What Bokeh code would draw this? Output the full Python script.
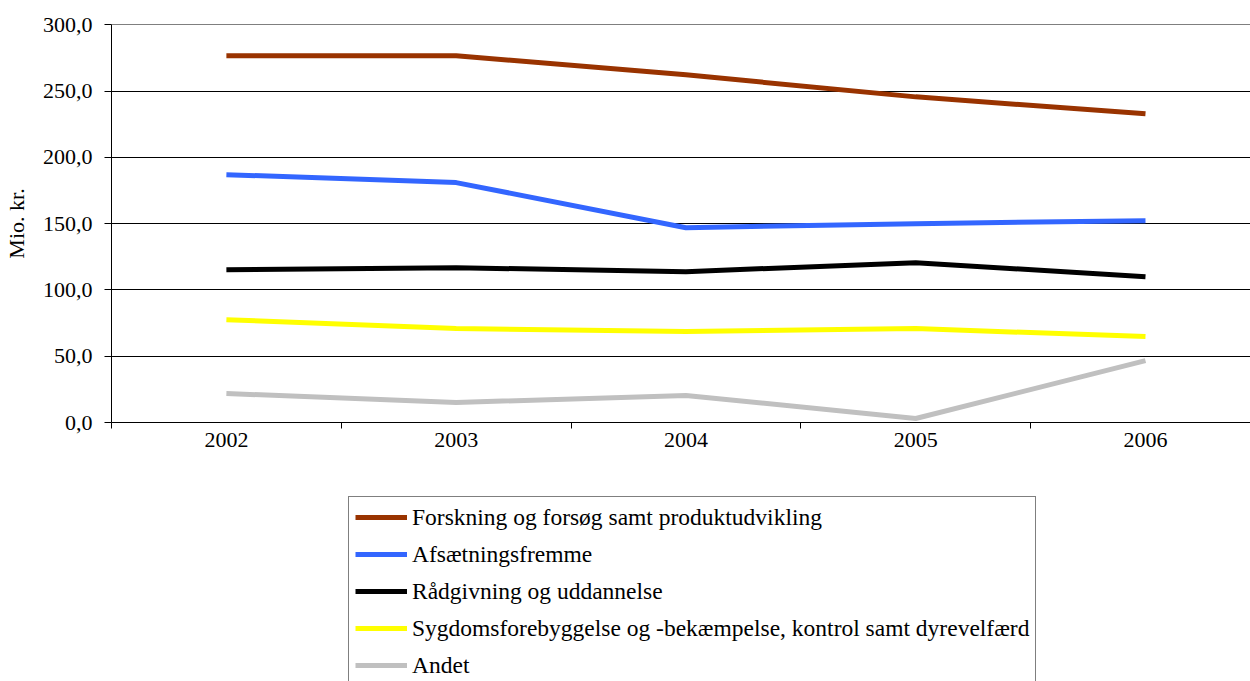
from bokeh.plotting import figure
from bokeh.layouts import column
from bokeh.models import Range1d, FixedTicker, Legend, LegendItem
from bokeh.embed import file_html
from bokeh.resources import INLINE

years = ["2002", "2003", "2004", "2005", "2006"]
forskning = [276.7, 276.7, 262.3, 245.7, 232.9]
afsaetning = [187.0, 181.0, 147.0, 150.0, 152.3]
raadgivning = [115.3, 116.8, 113.8, 120.6, 110.0]
sygdom = [77.6, 70.9, 68.6, 70.9, 64.8]
andet = [21.9, 15.1, 20.4, 3.0, 46.7]

series_names = [
    "Forskning og forsøg samt produktudvikling",
    "Afsætningsfremme",
    "Rådgivning og uddannelse",
    "Sygdomsforebyggelse og -bekæmpelse, kontrol samt dyrevelfærd",
    "Andet",
]
series_values = [forskning, afsaetning, raadgivning, sygdom, andet]
series_colors = ["#993300", "#3366FF", "#000000", "#FFFF00", "#C0C0C0"]

y_ticks = [0, 50, 100, 150, 200, 250, 300]
y_tick_labels = ["0,0", "50,0", "100,0", "150,0", "200,0", "250,0", "300,0"]

FONT = "Liberation Serif"

xs = list(range(len(years)))

# ---------------- main chart ----------------
p = figure(width=1250, height=472, output_backend="svg", toolbar_location=None,
           x_range=Range1d(-0.5, 4.457), y_range=Range1d(0, 300.3),
           min_border_left=110, min_border_right=0, min_border_top=24,
           min_border_bottom=50)
p.outline_line_color = None
p.background_fill_color = "white"

p.xaxis.ticker = FixedTicker(ticks=xs, minor_ticks=[i - 0.5 for i in range(len(years) + 1)])
p.xaxis.major_label_overrides = {i: y for i, y in enumerate(years)}
p.xaxis.major_tick_out = 0
p.xaxis.major_tick_in = 0
p.xaxis.minor_tick_out = 6
p.xaxis.minor_tick_in = 0
p.xaxis.minor_tick_line_color = "black"
p.xaxis.axis_line_color = "black"
p.xaxis.major_label_standoff = 4
p.xaxis.major_label_text_font = FONT
p.xaxis.major_label_text_font_size = "22px"
p.xaxis.major_label_text_color = "black"

p.yaxis.ticker = FixedTicker(ticks=y_ticks, minor_ticks=[])
p.yaxis.major_label_overrides = {t: l for t, l in zip(y_ticks, y_tick_labels)}
p.yaxis.major_tick_out = 7
p.yaxis.major_tick_in = 0
p.yaxis.axis_line_color = "black"
p.yaxis.major_tick_line_color = "black"
p.yaxis.major_label_standoff = 12
p.yaxis.major_label_text_font = FONT
p.yaxis.major_label_text_font_size = "22px"
p.yaxis.major_label_text_color = "black"
p.yaxis.axis_label = "Mio. kr."
p.yaxis.axis_label_text_font = FONT
p.yaxis.axis_label_text_font_size = "22px"
p.yaxis.axis_label_text_font_style = "normal"
p.yaxis.axis_label_text_color = "black"
p.yaxis.axis_label_standoff = 11

p.xgrid.visible = False
p.ygrid.grid_line_color = "black"
p.ygrid.grid_line_width = 1
p.ygrid.grid_line_alpha = 1

for vals, col in zip(series_values, series_colors):
    p.line(xs, vals, line_color=col, line_width=5)

# ---------------- legend panel ----------------
p2 = figure(width=1250, height=209, output_backend="svg", toolbar_location=None,
            x_range=Range1d(100, 101), y_range=Range1d(1000, 1001),
            x_axis_type=None, y_axis_type=None, min_border=0)
p2.outline_line_color = None
p2.xgrid.visible = False
p2.ygrid.visible = False

items = []
for name, vals, col in zip(series_names, series_values, series_colors):
    r = p2.line(xs, vals, line_color=col, line_width=5)
    items.append(LegendItem(label=name, renderers=[r]))

legend = Legend(items=items, location=(237, -5))
legend.label_text_font = FONT
legend.label_text_font_size = "23.5px"
legend.label_text_color = "black"
legend.glyph_width = 52
legend.glyph_height = 28
legend.label_height = 28
legend.spacing = 9
legend.padding = 6
legend.margin = 0
legend.label_standoff = 5
legend.border_line_color = "black"
legend.border_line_width = 1
legend.background_fill_alpha = 1
p2.add_layout(legend, "center")

layout = column(p, p2, spacing=0)
open("out.html", "w").write(file_html(layout, INLINE))
